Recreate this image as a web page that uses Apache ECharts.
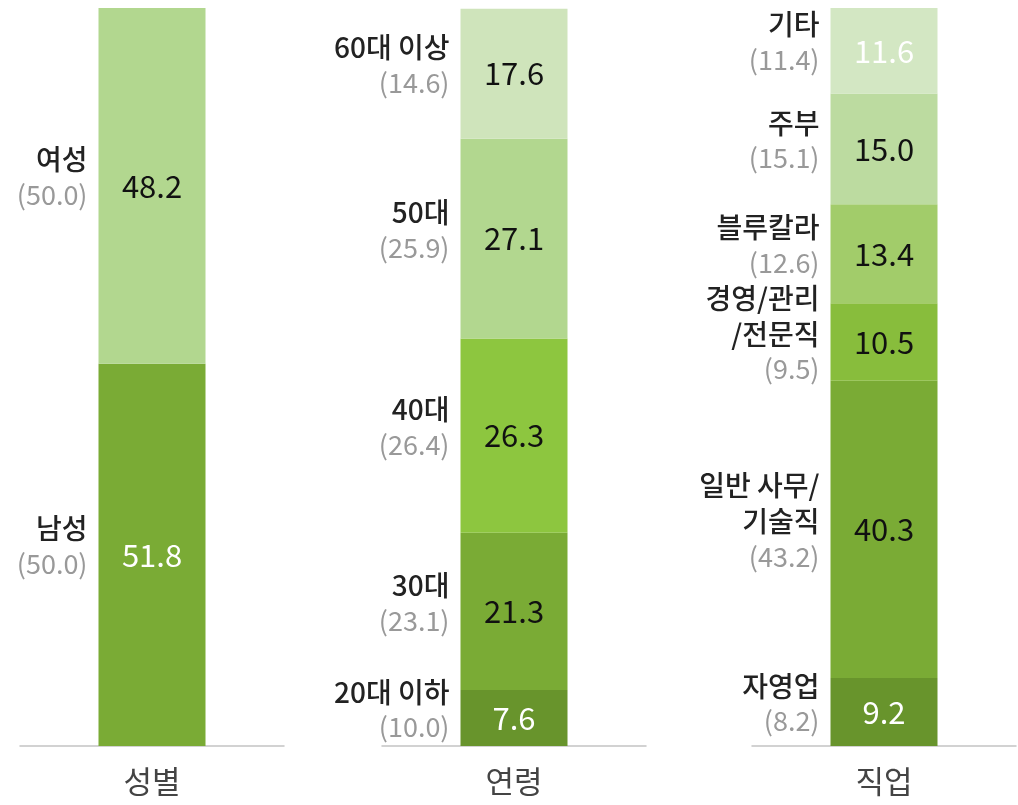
<!DOCTYPE html>
<html>
<head>
<meta charset="utf-8">
<script src="https://cdn.jsdelivr.net/npm/echarts@6/dist/echarts.min.js"></script>
<style>
html,body{margin:0;padding:0;background:#fff}
#chart{width:1018px;height:805px}
</style>
</head>
<body>
<div id="chart"></div>
<script>
// 그룹 이름
const groups = ['성별', '연령', '직업']

// 성별
const genderNames = ['남성', '여성']
const genderValues = [51.8, 48.2]
const genderBase = [50.0, 50.0]

// 연령
const ageNames = ['20대 이하', '30대', '40대', '50대', '60대 이상']
const ageValues = [7.6, 21.3, 26.3, 27.1, 17.6]
const ageBase = [10.0, 23.1, 26.4, 25.9, 14.6]

// 직업
const jobNames = ['자영업', '일반 사무/\n기술직', '경영/관리\n/전문직', '블루칼라', '주부', '기타']
const jobValues = [9.2, 40.3, 10.5, 13.4, 15.0, 11.6]
const jobBase = [8.2, 43.2, 9.5, 12.6, 15.1, 11.4]

// 색상 (아래부터)
const genderColors = ['#7aab35', '#b2d78f']
const ageColors = ['#68942c', '#7aab35', '#8dc63f', '#b2d78f', '#cfe4bb']
const jobColors = ['#68942c', '#7aab35', '#88bd3c', '#a2cc6a', '#bcdba0', '#d3e7c3']
const genderText = ['#fff', '#111']
const ageText = ['#fff', '#111', '#111', '#111', '#111']
const jobText = ['#fff', '#111', '#111', '#111', '#111', '#fff']

const FONT = 'Noto Sans CJK KR'
const sets = [
	{names: genderNames, values: genderValues, base: genderBase, colors: genderColors, text: genderText},
	{names: ageNames, values: ageValues, base: ageBase, colors: ageColors, text: ageText},
	{names: jobNames, values: jobValues, base: jobBase, colors: jobColors, text: jobText}
]
const gridLeft = [20, 382, 752]

const grid = [], xAxis = [], yAxis = [], series = []
sets.forEach((s, g) => {
	grid.push({left: gridLeft[g], width: 264, top: 8, height: 738})
	xAxis.push({
		gridIndex: g, type: 'category', data: [groups[g]],
		axisLine: {lineStyle: {color: '#c4c4c4', width: 1.5}},
		axisTick: {show: false},
		axisLabel: {margin: 20, fontSize: 31, color: '#444', fontFamily: FONT}
	})
	yAxis.push({gridIndex: g, type: 'value', min: 0, max: 100, show: false})
	s.values.forEach((v, i) => {
		// 막대 + 안쪽 값
		series.push({
			type: 'bar', xAxisIndex: g, yAxisIndex: g, stack: 'v' + g,
			barWidth: 107, barGap: '-100%',
			itemStyle: {color: s.colors[i]},
			label: {show: true, position: 'inside', fontSize: 31, fontFamily: FONT, color: s.text[i],
				formatter: () => v.toFixed(1)},
			data: [v]
		})
	})
	s.values.forEach((v, i) => {
		// 왼쪽 이름 라벨 (투명 막대)
		const lines = s.names[i].split('\n').map(t => '{n|' + t + '}')
		lines.push('{p|(' + s.base[i].toFixed(1) + ')}')
		series.push({
			type: 'bar', xAxisIndex: g, yAxisIndex: g, stack: 'n' + g,
			barWidth: 107, barGap: '-100%', silent: true,
			itemStyle: {color: 'rgba(0,0,0,0)'},
			label: {show: true, position: 'left', distance: 11, align: 'right', offset: [0, -9],
				formatter: () => lines.join('\n'),
				rich: {
					n: {fontSize: 28, fontFamily: FONT, color: '#222', fontWeight: 500, align: 'right', lineHeight: 36},
					p: {fontSize: 27, fontFamily: FONT, color: '#999', fontWeight: 400, align: 'right', lineHeight: 34}
				}},
			data: [v]
		})
	})
})

const chart = echarts.init(document.getElementById('chart'))
chart.setOption({animation: false, grid, xAxis, yAxis, series})
</script>
</body>
</html>
